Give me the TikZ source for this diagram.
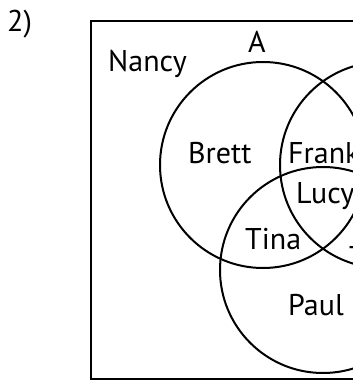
\documentclass[tikz,border=0pt]{standalone}
\usepackage{fontspec}
\setmainfont{PT Sans}
\begin{document}
\begin{tikzpicture}[x=1pt,y=-1pt,
    setline/.style={line width=2pt},
    pname/.style={anchor=base west,inner sep=0pt,font=\fontsize{30}{36}\selectfont}]
    \useasboundingbox (0,0) rectangle (353,380);
    \clip (0,0) rectangle (353,380);

    % Number of the exercise
    \node [pname] (num) at (7,31) {2)};

    % Drawing universal set
    \draw [setline] (91,21) rectangle (555,379);%

    % Drawing circle A
    \coordinate (cA) at (263,165);
    \draw [setline] (cA) circle (103pt);%
    \node [pname,anchor=base] (labA) at (257,52) {A};%

    % Drawing circle B
    \coordinate (cB) at (383,165);
    \draw [setline] (cB) circle (103pt);%

    % Drawing circle C
    \coordinate (cC) at (323,270);
    \draw [setline] (cC) circle (103pt);%

    % Placing the names
    \node [pname] (nancy) at (108,71) {Nancy};%
    \node [pname] (brett) at (188,163) {Brett};%
    \node [pname] (frank) at (288,163) {Frank};%
    \node [pname] (lucy) at (296,203) {Lucy};%
    \node [pname] (tina) at (245,249) {Tina};%
    \node [pname] (paul) at (288,315) {Paul};%
    \node [pname] (t) at (349,267) {T};%
\end{tikzpicture}
\end{document}
